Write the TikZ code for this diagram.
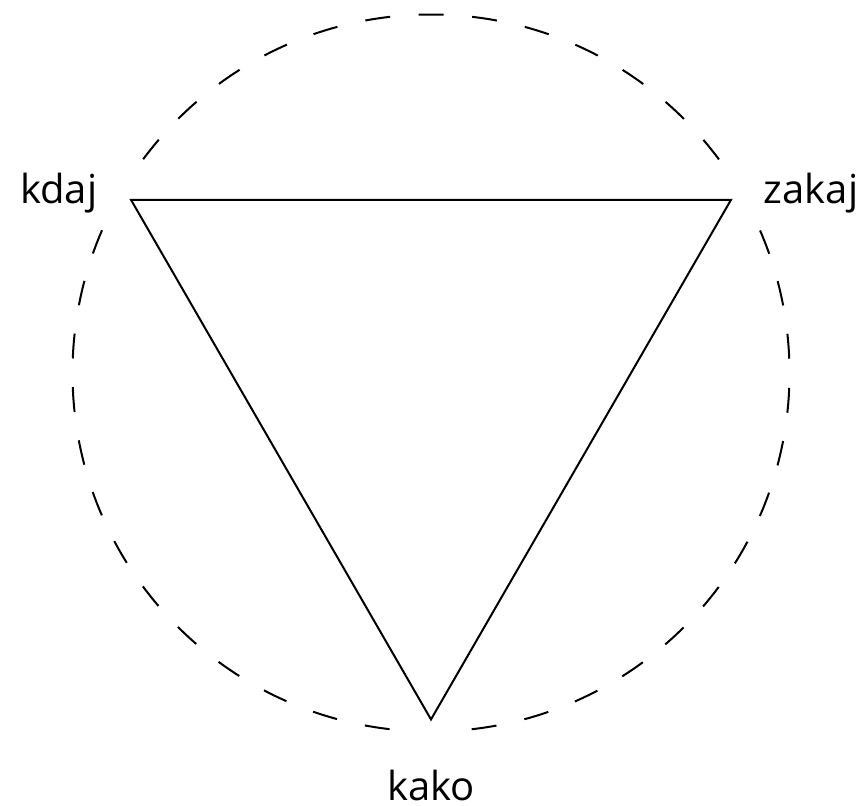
\documentclass[tikz,border=0pt]{standalone}
\usepackage{fontspec}
\setmainfont{Open Sans}
\usepackage{tikz}
\usetikzlibrary{positioning}
\definecolor{ink}{RGB}{0,0,0}
\tikzset{
  ring/.style={draw=ink,line width=0.5pt,dash pattern=on 6.25pt off 7.157pt,dash phase=9.83pt},
  vtx/.style={circle,fill=white,inner sep=0pt,minimum size=11pt},
  tri/.style={draw=ink,line width=0.5pt,line join=miter},
  lbl/.style={inner sep=0pt,font=\fontsize{10}{12}\selectfont,text=ink},
}

\begin{document}
\begin{tikzpicture}[x=0.25pt,y=0.25pt]
  \useasboundingbox (-431,-432) rectangle (432,373);
  % circle and vertices
  \coordinate (o) at (0,0);
  \draw[ring] (o) circle (358.5);
  \node[vtx] (kd) at (150:346.4) {};
  \node[vtx] (za) at (30:346.4) {};
  \node[vtx] (ka) at (270:346.4) {};
  \draw[tri] (kd.center) -- (za.center) -- (ka.center) -- cycle;
  % labels
  \node[lbl,base left=8.25pt of kd.center,yshift=-1pt] (lkd) {kdaj};
  \node[lbl,base right=8pt of za.center,yshift=-1pt] (lza) {zakaj};
  \node[lbl,below=12.5pt of ka.center] (lka) {kako};
\end{tikzpicture}
\end{document}
